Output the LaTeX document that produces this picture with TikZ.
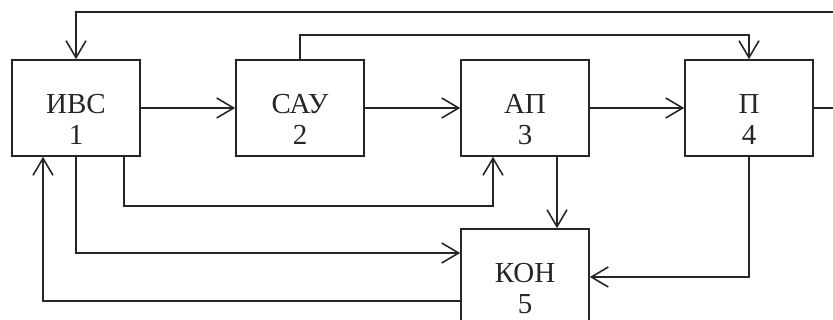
\documentclass[tikz,border=0pt]{standalone}
\usepackage{fontspec}
\setmainfont{Liberation Serif}
\usepackage{tikz}
\usetikzlibrary{arrows.meta,positioning}

\begin{document}
\begin{tikzpicture}[x=0.02cm, y=-0.02cm,
    block/.style={draw, line width=0.9pt, minimum width=2.56cm, minimum height=1.92cm,
      align=center, font=\fontsize{16.5}{17.6}\selectfont,
      execute at begin node={\rule{0pt}{42pt}}},
    arr/.style={-{Straight Barb[length=0.34cm,width=0.4cm,line width=0.9pt]}}]
    \useasboundingbox (0,0) rectangle (833,320);
    \tikzset{every path/.style={line width=0.9pt, black!85}}

    % Blocks
    \node[block] (ivs) at (76,108) {ИВС\\1};
    \node[block] (sau) at (300,108) {САУ\\2};
    \node[block] (ap) at (525,108) {АП\\3};
    \node[block] (p) at (749,108) {П\\4};
    \node[block] (kon) at (525,277) {КОН\\5};

    % Free ends at the right edge
    \coordinate (fb) at (833,12);
    \coordinate (out) at (833,108);

    % Main chain
    \draw[arr] (ivs) -- (sau);
    \draw[arr] (sau) -- (ap);
    \draw[arr] (ap) -- (p);
    \draw (p.east) -- (out);

    % Feedback and bypass lines
    \draw[arr] (fb) -| (ivs.north);
    \draw[arr] (sau.north) -- ++(0,-24) -| (p.north);
    \draw[arr] ([xshift=0.96cm]ivs.south) -- ++(0,49) -| ([xshift=-0.64cm]ap.south);
    \draw[arr] (ivs.south) |- ([yshift=0.48cm]kon.west);
    \draw[arr] ([yshift=-0.48cm]kon.west) -| ([xshift=-0.66cm]ivs.south);
    \draw[arr] ([xshift=0.64cm]ap.south) -- ([xshift=0.64cm]kon.north);
    \draw[arr] (p.south) |- (kon.east);
\end{tikzpicture}
\end{document}
